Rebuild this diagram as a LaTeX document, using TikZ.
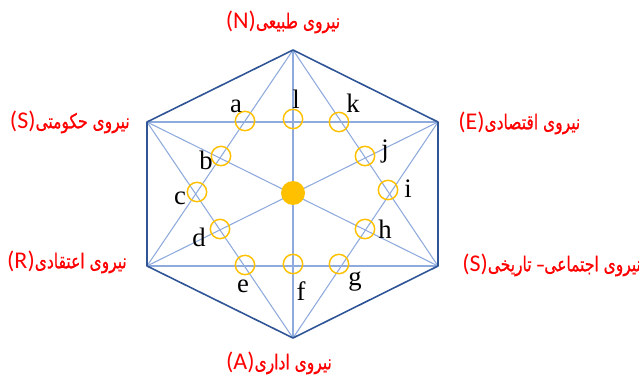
\documentclass[tikz,border=0pt]{standalone}
\usepackage{fontspec}
\setmainfont{Liberation Serif}
\newfontfamily\latinsans{Carlito}
\newfontfamily\persianfont[Script=Arabic,Scale=0.85,FakeStretch=0.76,FakeBold=0.6]{DejaVu Sans}
\TeXXeTstate=1
\definecolor{hexblue}{RGB}{47,85,151}
\definecolor{linkblue}{RGB}{143,170,220}
\definecolor{ringgold}{RGB}{255,192,0}
\definecolor{forcered}{RGB}{255,0,0}
\newcommand{\forcelabel}[2]{{\latinsans(#2)}{\persianfont\beginR #1\endR}}
\tikzset{
  link/.style={draw=linkblue, line width=0.8pt},
  ring/.style={circle, draw=ringgold, line width=1.1pt, minimum size=14.5pt, inner sep=0pt},
  letter/.style={font=\fontsize{20}{22}\selectfont, inner sep=0pt},
  force/.style={text=forcered, font=\fontsize{18}{20}\selectfont, inner sep=0pt},
}
\begin{document}
\begin{tikzpicture}[x=0.75pt,y=-0.75pt]
\useasboundingbox (0,0) rectangle (639,381);
\coordinate (nat) at (293,50);
\coordinate (eco) at (438,122);
\coordinate (soc) at (438,266);
\coordinate (adm) at (293,338);
\coordinate (rel) at (147,266);
\coordinate (gov) at (147,122);
\draw[link] (nat) -- (adm);
\draw[link] (gov) -- (soc);
\draw[link] (eco) -- (rel);
\draw[link] (nat) -- (rel);
\draw[link] (nat) -- (soc);
\draw[link] (rel) -- (soc);
\draw[link] (adm) -- (gov);
\draw[link] (adm) -- (eco);
\draw[link] (gov) -- (eco);
\draw[hexblue, line width=1.2pt, line join=round] (nat) -- (eco) -- (soc) -- (adm) -- (rel) -- (gov) -- cycle;
\node[circle, fill=ringgold, minimum size=18pt, inner sep=0pt] (core) at (293,193) {};
\node[ring] (ra) at (245,121) {};
\node[ring] (rl) at (293,119) {};
\node[ring] (rk) at (339,122) {};
\node[ring] (rb) at (221,156) {};
\node[ring] (rj) at (365,156) {};
\node[ring] (rc) at (197,192) {};
\node[ring] (ri) at (388,190) {};
\node[ring] (rd) at (220,229) {};
\node[ring] (rh) at (365,229) {};
\node[ring] (re) at (245,265) {};
\node[ring] (rf) at (293,264) {};
\node[ring] (rg) at (339,264) {};
\node[letter] (la) at (236,106) {a};
\node[letter] (ll) at (296,99) {l};
\node[letter] (lk) at (353,103) {k};
\node[letter] (lj) at (385,152) {j};
\node[letter] (li) at (408,189) {i};
\node[letter] (lb) at (206,160) {b};
\node[letter] (lc) at (180,198) {c};
\node[letter] (ld) at (199,237) {d};
\node[letter] (le) at (243,286) {e};
\node[letter] (lf) at (301,291) {f};
\node[letter] (lg) at (355,282) {g};
\node[letter] (lh) at (385,229) {h};
\node[force] (fnat) at (283,22) {\forcelabel{نیروی طبیعی}{N}};
\node[force] (fadm) at (279,363) {\forcelabel{نیروی اداری}{A}};
\node[force, anchor=east] (fgov) at (130,122) {\forcelabel{نیروی حکومتی}{S}};
\node[force, anchor=east] (frel) at (127,262) {\forcelabel{نیروی اعتقادی}{R}};
\node[force, anchor=west] (feco) at (458,123) {\forcelabel{نیروی اقتصادی}{E}};
\node[force, anchor=west] (fsoc) at (462,265) {\forcelabel{نیروی اجتماعی– تاریخی}{S}};
\end{tikzpicture}
\end{document}
